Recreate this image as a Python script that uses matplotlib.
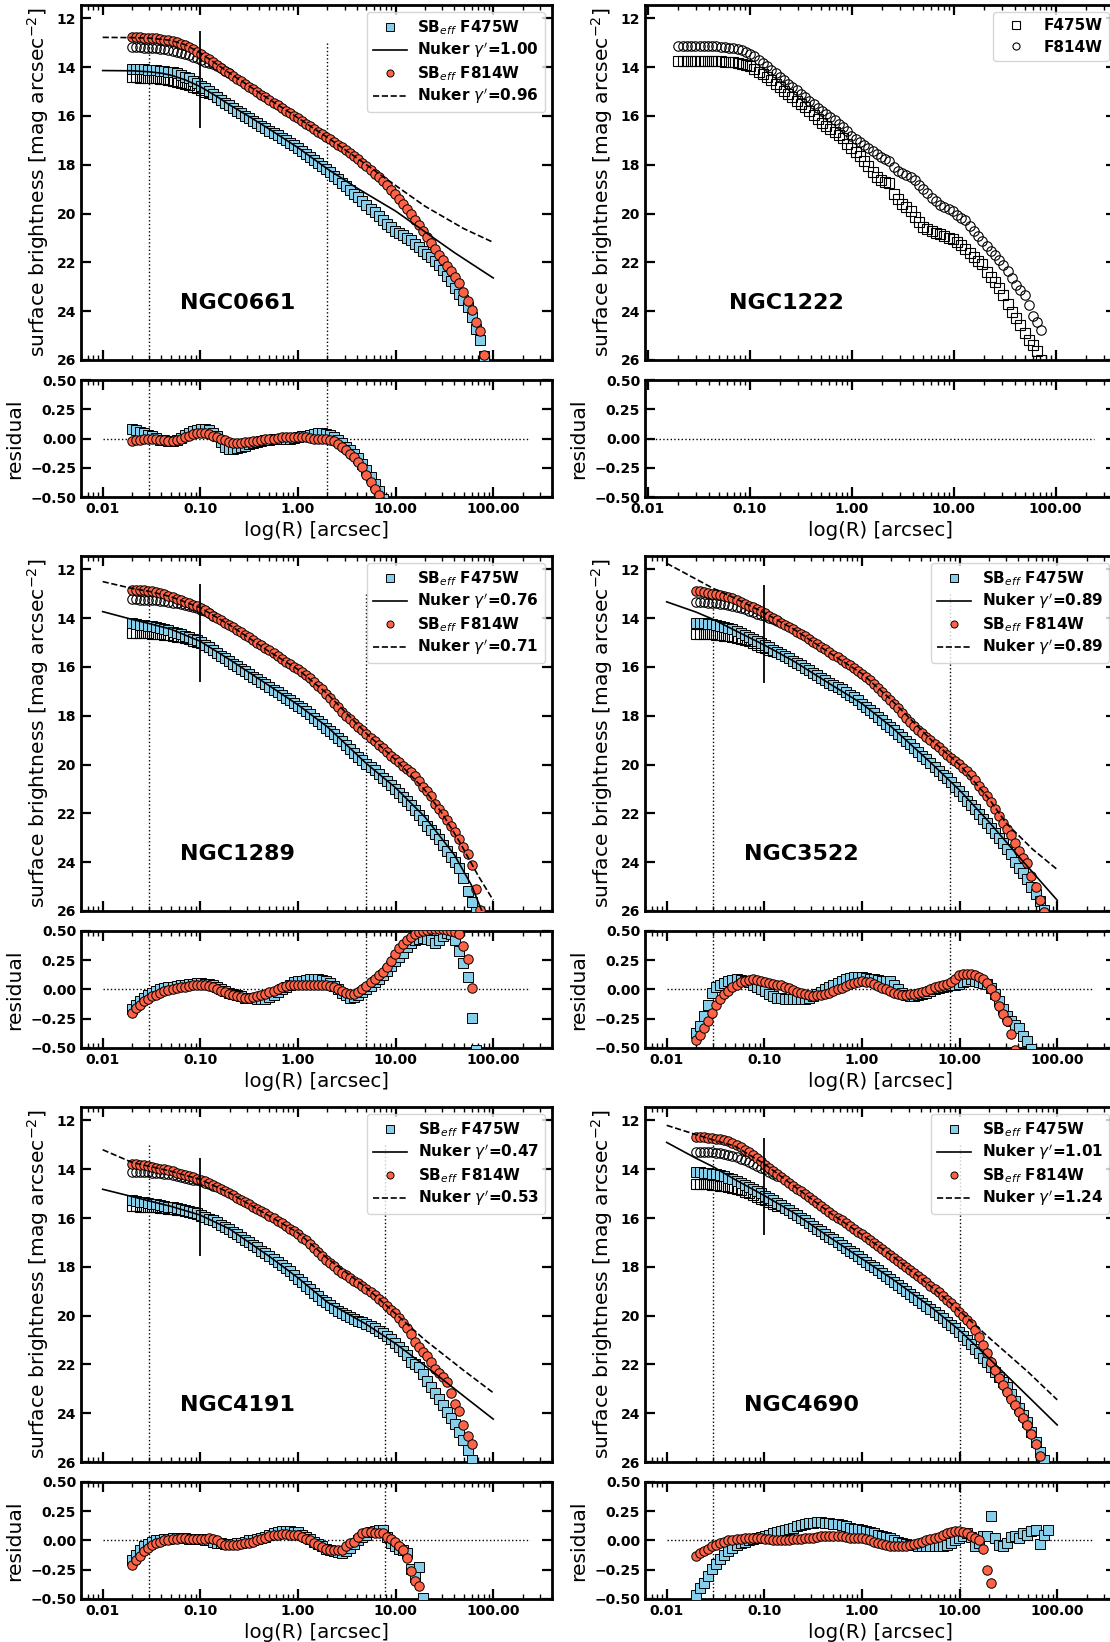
"""Effective surface-brightness profiles (F475W / F814W) with Nuker fits and residuals."""

import matplotlib
matplotlib.use("Agg")
import matplotlib.pyplot as plt
from matplotlib.lines import Line2D
from matplotlib.ticker import FixedLocator, FuncFormatter, LogLocator, NullFormatter

plt.rcParams["font.family"] = ["DejaVu Sans"]
plt.rcParams["axes.linewidth"] = 2.0

# ── Isophote radii shared by every profile (arcsec) ────────────────────────
RADIUS = [
    0.0200, 0.0220, 0.0242, 0.0266, 0.0293, 0.0322, 0.0354, 0.0390, 0.0429, 0.0472,
    0.0519, 0.0571, 0.0628, 0.0690, 0.0759, 0.0835, 0.0919, 0.1011, 0.1112, 0.1223,
    0.1345, 0.1480, 0.1628, 0.1791, 0.1970, 0.2167, 0.2384, 0.2622, 0.2884, 0.3173,
    0.3490, 0.3839, 0.4223, 0.4645, 0.5110, 0.5621, 0.6183, 0.6801, 0.7481, 0.8229,
    0.9052, 0.9957, 1.095, 1.205, 1.325, 1.458, 1.604, 1.764, 1.940, 2.134,
    2.348, 2.583, 2.841, 3.125, 3.438, 3.781, 4.159, 4.575, 5.033, 5.536,
    6.090, 6.699, 7.369, 8.106, 8.916, 9.808, 10.79, 11.87, 13.05, 14.36,
    15.80, 17.38, 19.11, 21.02, 23.13, 25.44, 27.98, 30.78, 33.86, 37.25,
    40.97, 45.07, 49.57, 54.53, 59.98, 65.98, 72.58, 79.84,
]

# ── NGC0661 ────────────────────────────────────────────────────────────────
N0661_F475W = [
    14.08, 14.08, 14.09, 14.09, 14.10, 14.10, 14.12, 14.14, 14.16, 14.18,
    14.21, 14.26, 14.32, 14.39, 14.46, 14.55, 14.65, 14.76, 14.87, 14.99,
    15.10, 15.22, 15.33, 15.45, 15.56, 15.67, 15.78, 15.89, 16.00, 16.10,
    16.20, 16.30, 16.40, 16.50, 16.60, 16.70, 16.80, 16.90, 17.00, 17.10,
    17.20, 17.30, 17.42, 17.54, 17.67, 17.80, 17.92, 18.05, 18.17, 18.30,
    18.45, 18.60, 18.75, 18.89, 19.03, 19.18, 19.33, 19.49, 19.65, 19.80,
    19.95, 20.10, 20.26, 20.41, 20.56, 20.70, 20.80, 20.90, 21.00, 21.10,
    21.24, 21.38, 21.52, 21.66, 21.79, 21.95, 22.10, 22.30, 22.55, 22.78,
    23.05, 23.28, 23.55, 23.85, 24.25, 24.75, 25.20, 25.85,
]
N0661_F814W = [
    12.78, 12.78, 12.78, 12.79, 12.79, 12.80, 12.82, 12.84, 12.87, 12.90,
    12.94, 12.99, 13.05, 13.11, 13.18, 13.26, 13.36, 13.46, 13.57, 13.68,
    13.80, 13.91, 14.02, 14.14, 14.25, 14.36, 14.47, 14.58, 14.69, 14.80,
    14.91, 15.02, 15.13, 15.24, 15.34, 15.45, 15.56, 15.67, 15.78, 15.88,
    15.99, 16.10, 16.21, 16.32, 16.42, 16.53, 16.64, 16.75, 16.86, 16.96,
    17.07, 17.18, 17.29, 17.41, 17.53, 17.65, 17.78, 17.92, 18.06, 18.21,
    18.36, 18.52, 18.68, 18.85, 19.02, 19.20, 19.40, 19.60, 19.81, 20.03,
    20.25, 20.49, 20.73, 20.97, 21.21, 21.45, 21.68, 21.91, 22.14, 22.37,
    22.60, 22.85, 23.20, 23.60, 23.95, 24.45, 24.80, 25.80,
]
N0661_F475W_RAW = [
    14.42, 14.42, 14.43, 14.43, 14.44, 14.45, 14.46, 14.48, 14.50, 14.53,
    14.56, 14.60, 14.64, 14.69, 14.74, 14.80, 14.86, 14.93, 15.00, 15.06,
    15.12, 15.22, 15.33,
]
N0661_F814W_RAW = [
    13.19, 13.19, 13.19, 13.20, 13.20, 13.21, 13.22, 13.24, 13.26, 13.29,
    13.32, 13.36, 13.41, 13.46, 13.52, 13.58, 13.64, 13.71, 13.77, 13.83,
    13.88, 13.94, 14.03, 14.14, 14.25,
]
N0661_RES_F475W = [
    0.08, 0.07, 0.06, 0.045, 0.03, 0.02, 0.005, -0.01, -0.015, -0.02,
    -0.025, -0.01, 0.005, 0.03, 0.05, 0.065, 0.075, 0.08, 0.08, 0.075,
    0.05, 0.02, -0.03, -0.07, -0.09, -0.09, -0.08, -0.07, -0.06, -0.05,
    -0.04, -0.03, -0.025, -0.015, -0.01, -0.005, -0.005, -0.005, 0.0, 0.0,
    0.005, 0.01, 0.02, 0.025, 0.03, 0.04, 0.05, 0.05, 0.04, 0.03,
    0.01, -0.01, -0.04, -0.07, -0.10, -0.135, -0.17, -0.22, -0.27, -0.33,
    -0.39, -0.45, -0.52,
]
N0661_RES_F814W = [
    -0.02, -0.015, -0.01, -0.005, 0.0, 0.0, -0.005, -0.01, -0.015, -0.02,
    -0.02, -0.01, 0.0, 0.015, 0.025, 0.035, 0.045, 0.05, 0.045, 0.04,
    0.025, 0.01, 0.0, -0.015, -0.03, -0.035, -0.035, -0.035, -0.03, -0.03,
    -0.025, -0.02, -0.01, -0.005, 0.0, 0.0, 0.005, 0.01, 0.01, 0.015,
    0.015, 0.015, 0.01, 0.01, 0.005, 0.0, 0.0, 0.0, 0.0, -0.01,
    -0.025, -0.045, -0.07, -0.10, -0.13, -0.16, -0.20, -0.245, -0.31, -0.37,
    -0.43, -0.48, -0.54,
]
N0661_NUKER_B_R = [0.01, 0.02, 0.03, 0.04, 0.05, 0.07, 0.1, 0.15, 0.2, 0.3,
                   0.5, 1, 2, 4, 10, 20, 40, 100]
N0661_NUKER_B = [14.14, 14.15, 14.19, 14.25, 14.33, 14.52, 14.80, 15.22, 15.55, 15.97,
                 16.52, 17.30, 18.17, 18.95, 19.90, 20.75, 21.60, 22.64]
N0661_NUKER_R_R = [0.01, 0.02, 0.03, 0.05, 0.07, 0.1, 0.15, 0.2, 0.5, 1,
                   2, 4, 10, 20, 50, 100]
N0661_NUKER_R = [12.78, 12.79, 12.81, 12.90, 13.08, 13.42, 13.90, 14.25, 15.30, 16.08,
                 16.88, 17.72, 18.85, 19.70, 20.62, 21.18]

# ── NGC1222 (no fit) ───────────────────────────────────────────────────────
N1222_F475W = [
    13.73, 13.73, 13.73, 13.73, 13.74, 13.74, 13.74, 13.75, 13.75, 13.76,
    13.76, 13.77, 13.78, 13.80, 13.83, 13.86, 13.90, 13.96, 14.07, 14.18,
    14.30, 14.41, 14.54, 14.68, 14.82, 14.96, 15.10, 15.24, 15.38, 15.52,
    15.65, 15.79, 15.95, 16.11, 16.27, 16.40, 16.53, 16.66, 16.79, 16.92,
    17.17, 17.33, 17.49, 17.66, 17.85, 18.04, 18.28, 18.52, 18.62, 18.69,
    18.75, 19.20, 19.42, 19.60, 19.75, 19.90, 20.15, 20.34, 20.56, 20.64,
    20.72, 20.79, 20.85, 20.92, 20.99, 21.06, 21.17, 21.30, 21.45, 21.62,
    21.78, 21.94, 22.08, 22.40, 22.60, 22.80, 23.05, 23.35, 23.70, 24.05,
    24.30, 24.55, 24.90, 25.20, 25.40, 25.65, 26.00,
]
N1222_F814W = [
    13.13, 13.13, 13.13, 13.13, 13.13, 13.14, 13.14, 13.14, 13.15, 13.15,
    13.16, 13.18, 13.20, 13.22, 13.26, 13.30, 13.38, 13.46, 13.55, 13.69,
    13.83, 13.97, 14.11, 14.26, 14.40, 14.54, 14.68, 14.81, 14.95, 15.09,
    15.22, 15.37, 15.52, 15.67, 15.80, 15.92, 16.05, 16.18, 16.31, 16.45,
    16.63, 16.83, 16.95, 17.08, 17.20, 17.33, 17.45, 17.58, 17.70, 17.76,
    17.85, 18.10, 18.24, 18.33, 18.42, 18.52, 18.64, 18.82, 18.99, 19.17,
    19.35, 19.50, 19.63, 19.73, 19.80, 19.88, 20.07, 20.19, 20.26, 20.52,
    20.73, 20.93, 21.12, 21.33, 21.52, 21.70, 21.90, 22.10, 22.35, 22.66,
    22.93, 23.15, 23.33, 23.73, 24.20, 24.45, 24.77,
]

# ── NGC1289 ────────────────────────────────────────────────────────────────
N1289_F475W = [
    14.21, 14.23, 14.26, 14.28, 14.31, 14.34, 14.37, 14.40, 14.45, 14.50,
    14.55, 14.60, 14.65, 14.71, 14.78, 14.84, 14.90, 14.97, 15.08, 15.19,
    15.31, 15.42, 15.53, 15.64, 15.75, 15.86, 15.96, 16.07, 16.17, 16.28,
    16.39, 16.50, 16.61, 16.71, 16.82, 16.93, 17.04, 17.15, 17.26, 17.37,
    17.48, 17.58, 17.69, 17.80, 17.93, 18.07, 18.21, 18.35, 18.49, 18.63,
    18.76, 18.90, 19.05, 19.20, 19.36, 19.52, 19.67, 19.82, 19.98, 20.10,
    20.23, 20.38, 20.53, 20.68, 20.84, 20.99, 21.16, 21.33, 21.50, 21.67,
    21.85, 22.05, 22.26, 22.50, 22.67, 22.86, 23.05, 23.30, 23.56, 23.80,
    23.98, 24.24, 24.65, 25.20, 25.65, 26.05,
]
N1289_F814W = [
    12.85, 12.85, 12.86, 12.86, 12.87, 12.90, 12.93, 12.97, 13.02, 13.08,
    13.14, 13.20, 13.26, 13.32, 13.38, 13.44, 13.50, 13.58, 13.68, 13.78,
    13.89, 13.99, 14.09, 14.19, 14.29, 14.38, 14.48, 14.58, 14.69, 14.79,
    14.89, 15.00, 15.11, 15.22, 15.32, 15.43, 15.55, 15.66, 15.78, 15.89,
    16.00, 16.10, 16.22, 16.34, 16.46, 16.60, 16.76, 16.92, 17.10, 17.28,
    17.47, 17.65, 17.83, 18.00, 18.15, 18.30, 18.44, 18.59, 18.75, 18.90,
    19.03, 19.18, 19.34, 19.50, 19.64, 19.78, 19.91, 20.04, 20.17, 20.30,
    20.47, 20.68, 20.90, 21.10, 21.30, 21.60, 21.82, 22.03, 22.27, 22.50,
    22.77, 23.05, 23.38, 23.65, 24.10, 25.10, 25.95,
]
N1289_F475W_RAW = [
    14.60, 14.60, 14.61, 14.61, 14.62, 14.63, 14.64, 14.66, 14.68, 14.70,
    14.73, 14.76, 14.79, 14.83, 14.87, 14.92, 14.97, 15.03, 15.10, 15.19,
    15.31,
]
N1289_F814W_RAW = [
    13.23, 13.23, 13.24, 13.24, 13.25, 13.26, 13.27, 13.29, 13.31, 13.33,
    13.36, 13.39, 13.43, 13.47, 13.51, 13.55, 13.60, 13.66, 13.72, 13.80,
    13.89,
]
N1289_RES_F475W = [
    -0.17, -0.13, -0.10, -0.075, -0.05, -0.03, -0.015, 0.0, 0.01, 0.02,
    0.025, 0.03, 0.035, 0.04, 0.045, 0.05, 0.055, 0.055, 0.05, 0.045,
    0.035, 0.02, 0.0, -0.015, -0.03, -0.04, -0.05, -0.06, -0.07, -0.07,
    -0.075, -0.08, -0.085, -0.08, -0.065, -0.045, -0.02, 0.0, 0.02, 0.04,
    0.06, 0.07, 0.075, 0.08, 0.085, 0.085, 0.085, 0.08, 0.07, 0.055,
    0.03, 0.0, -0.03, -0.05, -0.07, -0.065, -0.045, -0.02, 0.0, 0.03,
    0.06, 0.09, 0.12, 0.16, 0.20, 0.24, 0.28, 0.31, 0.36, 0.40,
    0.42, 0.43, 0.44, 0.43, 0.42, 0.40, 0.42, 0.46, 0.48, 0.47,
    0.42, 0.33, 0.23, 0.11, -0.24, -0.52,
]
N1289_RES_F814W = [
    -0.20, -0.16, -0.13, -0.10, -0.08, -0.06, -0.045, -0.03, -0.015, -0.005,
    0.0, 0.01, 0.02, 0.025, 0.03, 0.035, 0.04, 0.04, 0.035, 0.03,
    0.02, 0.005, -0.01, -0.025, -0.04, -0.05, -0.06, -0.065, -0.07, -0.07,
    -0.065, -0.06, -0.05, -0.04, -0.025, -0.01, 0.005, 0.02, 0.03, 0.035,
    0.04, 0.04, 0.04, 0.04, 0.04, 0.04, 0.04, 0.04, 0.035, 0.03,
    0.02, 0.0, -0.015, -0.03, -0.04, -0.035, -0.02, 0.005, 0.03, 0.06,
    0.09, 0.12, 0.15, 0.19, 0.24, 0.30, 0.35, 0.39, 0.42, 0.45,
    0.47, 0.49, 0.50, 0.51, 0.52, 0.52, 0.52, 0.52, 0.51, 0.50,
    0.49, 0.47, 0.37, 0.26, 0.01, -0.55,
]
N1289_NUKER_B_R = [0.01, 0.02, 0.03, 0.05, 0.1, 0.2, 0.5, 1, 2, 5, 10, 20, 40, 60, 80]
N1289_NUKER_B = [13.73, 14.05, 14.22, 14.45, 14.95, 15.70, 16.75, 17.55, 18.45, 19.95,
                 20.95, 22.15, 23.70, 24.95, 26.20]
N1289_NUKER_R_R = [0.01, 0.02, 0.03, 0.05, 0.1, 0.2, 0.5, 1, 2, 5, 10, 14, 20, 30,
                   45, 70, 100]
N1289_NUKER_R = [12.50, 12.78, 12.90, 13.12, 13.57, 14.28, 15.35, 16.10, 17.10, 18.72,
                 19.80, 20.40, 21.05, 22.00, 23.15, 24.55, 25.56]

# ── NGC3522 ────────────────────────────────────────────────────────────────
N3522_F475W = [
    14.19, 14.20, 14.21, 14.23, 14.25, 14.28, 14.32, 14.36, 14.40, 14.46,
    14.53, 14.61, 14.69, 14.77, 14.85, 14.94, 15.02, 15.11, 15.20, 15.29,
    15.38, 15.47, 15.56, 15.65, 15.74, 15.83, 15.93, 16.03, 16.13, 16.24,
    16.34, 16.45, 16.55, 16.64, 16.73, 16.83, 16.92, 17.02, 17.13, 17.25,
    17.37, 17.50, 17.63, 17.77, 17.90, 18.04, 18.18, 18.32, 18.46, 18.60,
    18.74, 18.88, 19.02, 19.17, 19.32, 19.47, 19.63, 19.78, 19.94, 20.10,
    20.26, 20.41, 20.57, 20.73, 20.90, 21.10, 21.29, 21.48, 21.66, 21.84,
    22.03, 22.21, 22.40, 22.58, 22.80, 23.00, 23.23, 23.45, 23.67, 23.99,
    24.22, 24.44, 24.70, 25.00, 25.30, 25.60, 25.95,
]
N3522_F814W = [
    12.88, 12.90, 12.93, 12.96, 12.99, 13.02, 13.05, 13.09, 13.13, 13.18,
    13.25, 13.33, 13.41, 13.49, 13.56, 13.64, 13.71, 13.79, 13.89, 13.99,
    14.09, 14.19, 14.28, 14.37, 14.46, 14.55, 14.65, 14.75, 14.86, 14.96,
    15.07, 15.17, 15.28, 15.39, 15.49, 15.60, 15.71, 15.82, 15.93, 16.04,
    16.15, 16.27, 16.41, 16.55, 16.69, 16.85, 17.01, 17.18, 17.36, 17.53,
    17.70, 17.87, 18.07, 18.26, 18.43, 18.57, 18.72, 18.86, 18.99, 19.14,
    19.29, 19.44, 19.59, 19.74, 19.87, 19.98, 20.12, 20.27, 20.42, 20.62,
    20.86, 21.07, 21.28, 21.52, 21.80, 22.10, 22.38, 22.62, 22.88, 23.20,
    23.55, 23.83, 24.05, 24.55, 25.00, 25.55, 26.05,
]
N3522_F475W_RAW = [
    14.63, 14.63, 14.64, 14.65, 14.66, 14.67, 14.69, 14.71, 14.74, 14.77,
    14.81, 14.85, 14.90, 14.95, 15.02, 15.09, 15.16, 15.23, 15.29, 15.34,
    15.40,
]
N3522_F814W_RAW = [
    13.33, 13.34, 13.35, 13.36, 13.37, 13.39, 13.41, 13.43, 13.46, 13.50,
    13.54, 13.59, 13.64, 13.69, 13.75, 13.81, 13.87, 13.93, 13.99, 14.05,
    14.12,
]
N3522_RES_F475W = [
    -0.37, -0.31, -0.23, -0.13, -0.03, 0.02, 0.04, 0.055, 0.07, 0.08,
    0.085, 0.08, 0.07, 0.06, 0.04, 0.02, 0.0, -0.015, -0.035, -0.055,
    -0.07, -0.075, -0.08, -0.085, -0.085, -0.085, -0.085, -0.08, -0.07, -0.055,
    -0.04, -0.02, 0.0, 0.02, 0.035, 0.055, 0.075, 0.09, 0.10, 0.105,
    0.11, 0.11, 0.10, 0.09, 0.085, 0.08, 0.075, 0.07, 0.07, 0.04,
    0.0, -0.03, -0.05, -0.06, -0.06, -0.05, -0.04, -0.03, -0.015, 0.0,
    0.01, 0.02, 0.03, 0.035, 0.04, 0.045, 0.06, 0.075, 0.085, 0.075,
    0.065, 0.055, 0.045, 0.01, -0.04, -0.10, -0.17, -0.23, -0.27, -0.30,
    -0.33, -0.40, -0.44, -0.51,
]
N3522_RES_F814W = [
    -0.43, -0.39, -0.33, -0.27, -0.20, -0.13, -0.08, -0.04, -0.01, 0.02,
    0.04, 0.06, 0.075, 0.08, 0.085, 0.08, 0.07, 0.06, 0.055, 0.05,
    0.04, 0.035, 0.025, 0.01, -0.005, -0.02, -0.03, -0.04, -0.05, -0.055,
    -0.05, -0.045, -0.04, -0.03, -0.015, 0.0, 0.015, 0.03, 0.045, 0.055,
    0.065, 0.07, 0.065, 0.06, 0.045, 0.03, 0.015, 0.0, -0.015, -0.03,
    -0.04, -0.045, -0.045, -0.04, -0.035, -0.03, -0.02, -0.01, 0.005, 0.02,
    0.03, 0.04, 0.05, 0.06, 0.09, 0.12, 0.13, 0.135, 0.13, 0.12,
    0.11, 0.09, 0.055, 0.0, -0.06, -0.14, -0.21, -0.27, -0.38, -0.52,
]
N3522_NUKER_B_R = [0.01, 0.02, 0.03, 0.05, 0.1, 0.2, 0.5, 1, 2, 5, 10, 20, 40, 100]
N3522_NUKER_B = [13.33, 13.75, 14.05, 14.50, 15.10, 15.76, 16.76, 17.50, 18.45, 19.90,
                 21.05, 22.35, 23.75, 25.56]
N3522_NUKER_R_R = [0.01, 0.02, 0.03, 0.05, 0.1, 0.2, 0.5, 1, 2, 5, 10, 20, 30, 56, 100]
N3522_NUKER_R = [11.75, 12.40, 12.78, 13.18, 13.78, 14.45, 15.50, 16.27, 17.35, 18.95,
                 20.00, 21.40, 22.40, 23.47, 24.30]

# ── NGC4191 ────────────────────────────────────────────────────────────────
N4191_F475W = [
    15.27, 15.30, 15.33, 15.36, 15.39, 15.41, 15.44, 15.47, 15.50, 15.53,
    15.56, 15.60, 15.63, 15.67, 15.71, 15.75, 15.80, 15.88, 15.95, 16.02,
    16.10, 16.18, 16.27, 16.36, 16.46, 16.56, 16.66, 16.77, 16.88, 16.98,
    17.09, 17.20, 17.33, 17.45, 17.57, 17.69, 17.81, 17.93, 18.05, 18.19,
    18.34, 18.49, 18.64, 18.78, 18.92, 19.06, 19.20, 19.34, 19.46, 19.57,
    19.68, 19.79, 19.88, 19.96, 20.04, 20.12, 20.20, 20.28, 20.36, 20.44,
    20.52, 20.62, 20.72, 20.82, 20.97, 21.12, 21.28, 21.44, 21.60, 21.88,
    22.00, 22.10, 22.41, 22.66, 22.91, 23.17, 23.43, 23.68, 23.93, 24.18,
    24.45, 24.75, 25.10, 25.50, 25.90,
]
N4191_F814W = [
    13.77, 13.79, 13.81, 13.84, 13.86, 13.90, 13.93, 13.97, 14.00, 14.04,
    14.09, 14.14, 14.19, 14.23, 14.28, 14.33, 14.38, 14.43, 14.50, 14.58,
    14.65, 14.73, 14.82, 14.90, 14.98, 15.07, 15.16, 15.26, 15.35, 15.44,
    15.53, 15.62, 15.72, 15.81, 15.90, 16.00, 16.11, 16.21, 16.32, 16.43,
    16.55, 16.67, 16.80, 16.92, 17.07, 17.23, 17.39, 17.54, 17.70, 17.84,
    17.98, 18.12, 18.24, 18.35, 18.45, 18.56, 18.67, 18.79, 18.92, 19.04,
    19.17, 19.30, 19.45, 19.60, 19.75, 19.90, 20.10, 20.30, 20.50, 20.75,
    21.06, 21.28, 21.48, 21.67, 21.88, 22.20, 22.37, 22.52, 22.72, 23.18,
    23.62, 23.92, 24.50, 24.95, 25.25,
]
N4191_F475W_RAW = [
    15.52, 15.52, 15.53, 15.53, 15.54, 15.55, 15.56, 15.57, 15.59, 15.61,
    15.63, 15.66, 15.69, 15.72, 15.76, 15.80, 15.84, 15.90, 15.96, 16.03,
    16.10,
]
N4191_F814W_RAW = [
    14.11, 14.11, 14.12, 14.12, 14.13, 14.14, 14.15, 14.17, 14.19, 14.21,
    14.24, 14.27, 14.30, 14.34, 14.38, 14.42, 14.46, 14.50, 14.56, 14.62,
    14.67,
]
N4191_RES_F475W = [
    -0.165, -0.12, -0.08, -0.05, -0.03, -0.01, 0.0, 0.005, 0.01, 0.015,
    0.02, 0.02, 0.02, 0.02, 0.015, 0.015, 0.01, 0.01, 0.005, 0.0,
    -0.01, -0.02, -0.025, -0.03, -0.03, -0.03, -0.025, -0.02, -0.01, 0.0,
    0.005, 0.015, 0.02, 0.03, 0.045, 0.06, 0.075, 0.085, 0.085, 0.08,
    0.075, 0.07, 0.05, 0.03, 0.01, -0.01, -0.03, -0.05, -0.07, -0.085,
    -0.09, -0.10, -0.11, -0.09, -0.06, -0.03, 0.0, 0.03, 0.05, 0.07,
    0.085, 0.09, 0.09, 0.03, -0.02, -0.05, -0.07, -0.08, -0.11, -0.24,
    -0.31, -0.23, -0.49, -0.60,
]
N4191_RES_F814W = [
    -0.21, -0.17, -0.13, -0.09, -0.06, -0.04, -0.025, -0.01, 0.0, 0.005,
    0.01, 0.015, 0.02, 0.02, 0.015, 0.01, 0.01, 0.01, 0.015, 0.02,
    0.015, 0.0, -0.02, -0.035, -0.04, -0.04, -0.035, -0.03, -0.025, -0.02,
    -0.01, 0.0, 0.015, 0.025, 0.035, 0.045, 0.05, 0.055, 0.055, 0.05,
    0.05, 0.045, 0.03, 0.015, 0.0, -0.02, -0.04, -0.055, -0.07, -0.08,
    -0.085, -0.085, -0.08, -0.05, -0.02, -0.01, 0.03, 0.06, 0.075, 0.07,
    0.06, 0.065, 0.065, 0.03, 0.01, -0.01, -0.05, -0.08, -0.15, -0.26,
    -0.35, -0.39, -0.65,
]
N4191_NUKER_B_R = [0.01, 0.02, 0.03, 0.05, 0.1, 0.2, 0.5, 1, 2, 5, 10, 20, 30, 50, 100]
N4191_NUKER_B = [14.82, 15.12, 15.30, 15.52, 15.88, 16.45, 17.55, 18.45, 19.45, 20.35,
                 21.15, 22.05, 22.60, 23.30, 24.24]
N4191_NUKER_R_R = [0.01, 0.02, 0.03, 0.05, 0.1, 0.2, 0.5, 1, 2, 5, 10, 15, 20, 50, 100]
N4191_NUKER_R = [13.20, 13.72, 13.88, 14.08, 14.42, 14.97, 15.90, 16.60, 17.65, 18.85,
                 19.92, 20.55, 21.00, 22.25, 23.16]

# ── NGC4690 ────────────────────────────────────────────────────────────────
N4690_F475W = [
    14.12, 14.13, 14.14, 14.16, 14.18, 14.20, 14.24, 14.29, 14.34, 14.41,
    14.47, 14.55, 14.64, 14.73, 14.81, 14.90, 14.99, 15.08, 15.18, 15.28,
    15.38, 15.48, 15.58, 15.68, 15.78, 15.89, 15.99, 16.10, 16.20, 16.32,
    16.43, 16.54, 16.65, 16.76, 16.87, 16.98, 17.10, 17.21, 17.33, 17.44,
    17.56, 17.67, 17.79, 17.91, 18.02, 18.14, 18.26, 18.38, 18.49, 18.61,
    18.73, 18.85, 18.98, 19.10, 19.22, 19.35, 19.47, 19.59, 19.72, 19.84,
    19.96, 20.10, 20.24, 20.38, 20.52, 20.66, 20.82, 21.00, 21.17, 21.35,
    21.54, 21.73, 21.91, 22.10, 22.32, 22.53, 22.74, 22.94, 23.20, 23.50,
    23.79, 24.08, 24.37, 24.75, 25.17, 25.59, 25.90,
]
N4690_F814W = [
    12.68, 12.68, 12.69, 12.70, 12.71, 12.74, 12.77, 12.81, 12.86, 12.92,
    12.99, 13.08, 13.20, 13.31, 13.42, 13.55, 13.68, 13.81, 13.94, 14.07,
    14.19, 14.31, 14.43, 14.55, 14.67, 14.79, 14.91, 15.03, 15.15, 15.27,
    15.39, 15.50, 15.62, 15.74, 15.86, 15.98, 16.09, 16.21, 16.33, 16.44,
    16.56, 16.67, 16.79, 16.91, 17.03, 17.15, 17.27, 17.39, 17.51, 17.64,
    17.76, 17.89, 18.01, 18.14, 18.26, 18.38, 18.51, 18.64, 18.78, 18.91,
    19.05, 19.20, 19.34, 19.49, 19.66, 19.86, 20.03, 20.19, 20.36, 20.60,
    20.89, 21.22, 21.55, 21.88, 22.21, 22.54, 22.84, 23.13, 23.41, 23.67,
    23.94, 24.20, 24.47, 24.85, 25.28, 25.75,
]
N4690_F475W_RAW = [
    14.60, 14.60, 14.61, 14.62, 14.63, 14.65, 14.67, 14.70, 14.73, 14.77,
    14.82, 14.87, 14.93, 14.99, 15.06, 15.13, 15.20, 15.27, 15.35, 15.43,
    15.52,
]
N4690_F814W_RAW = [
    13.28, 13.28, 13.29, 13.30, 13.31, 13.33, 13.35, 13.38, 13.42, 13.46,
    13.51, 13.57, 13.63, 13.70, 13.77, 13.85, 13.93, 14.01, 14.10, 14.19,
    14.27,
]
N4690_RES_F475W = [
    -0.47, -0.41, -0.36, -0.30, -0.24, -0.20, -0.16, -0.12, -0.09, -0.06,
    -0.04, -0.025, -0.01, 0.0, 0.01, 0.02, 0.03, 0.04, 0.05, 0.06,
    0.07, 0.08, 0.09, 0.10, 0.11, 0.12, 0.13, 0.14, 0.15, 0.15,
    0.155, 0.155, 0.15, 0.15, 0.145, 0.14, 0.13, 0.12, 0.11, 0.10,
    0.095, 0.09, 0.08, 0.07, 0.06, 0.05, 0.04, 0.03, 0.02, 0.0,
    -0.01, -0.02, -0.03, -0.035, -0.04, -0.045, -0.05, -0.05, -0.05, -0.05,
    -0.05, -0.045, -0.04, -0.02, 0.0, 0.02, 0.04, 0.06, 0.03, -0.05,
    -0.02, 0.04, 0.04, 0.21, 0.02, -0.04, -0.05, -0.02, 0.03, 0.04,
    0.02, 0.06, 0.05, 0.08, 0.09, -0.03, 0.05, 0.09,
]
N4690_RES_F814W = [
    -0.13, -0.11, -0.09, -0.07, -0.05, -0.035, -0.02, -0.01, 0.0, 0.005,
    0.01, 0.015, 0.02, 0.02, 0.02, 0.02, 0.02, 0.015, 0.01, 0.005,
    0.0, 0.0, 0.0, 0.005, 0.01, 0.01, 0.015, 0.02, 0.02, 0.025,
    0.03, 0.035, 0.04, 0.04, 0.04, 0.04, 0.035, 0.03, 0.025, 0.02,
    0.02, 0.02, 0.01, 0.0, -0.01, -0.02, -0.03, -0.04, -0.045, -0.05,
    -0.05, -0.05, -0.045, -0.04, -0.03, -0.02, -0.01, 0.0, 0.01, 0.02,
    0.03, 0.045, 0.06, 0.07, 0.08, 0.08, 0.07, 0.06, 0.04, 0.02,
    0.0, -0.07, -0.25, -0.36,
]
N4690_NUKER_B_R = [0.01, 0.02, 0.03, 0.05, 0.1, 0.2, 0.5, 1, 2, 5, 10, 20, 50, 100]
N4690_NUKER_B = [12.90, 13.55, 13.90, 14.42, 15.08, 15.78, 16.87, 17.67, 18.47, 19.62,
                 20.60, 21.75, 23.30, 24.48]
N4690_NUKER_R_R = [0.01, 0.02, 0.03, 0.05, 0.1, 0.2, 0.5, 1, 2, 5, 10, 20, 50, 100]
N4690_NUKER_R = [12.20, 12.58, 12.80, 13.05, 13.78, 14.68, 15.86, 16.68, 17.52, 18.78,
                 19.80, 20.90, 22.30, 23.45]

# Per-galaxy fit settings: name, Nuker gamma' (F475W, F814W), fit range, PSF marker span
GALAXIES = [
    dict(name="NGC0661", col=0, row=0, gamma=("1.00", "0.96"), fit_range=(0.03, 2.0),
         psf_span=(12.5, 16.5),
         b=N0661_F475W, r=N0661_F814W, b_raw=N0661_F475W_RAW, r_raw=N0661_F814W_RAW,
         b_res=N0661_RES_F475W, r_res=N0661_RES_F814W,
         nb=(N0661_NUKER_B_R, N0661_NUKER_B), nr=(N0661_NUKER_R_R, N0661_NUKER_R)),
    dict(name="NGC1222", col=1, row=0, b=N1222_F475W, r=N1222_F814W),
    dict(name="NGC1289", col=0, row=1, gamma=("0.76", "0.71"), fit_range=(0.03, 5.0),
         psf_span=(12.6, 16.6),
         b=N1289_F475W, r=N1289_F814W, b_raw=N1289_F475W_RAW, r_raw=N1289_F814W_RAW,
         b_res=N1289_RES_F475W, r_res=N1289_RES_F814W,
         nb=(N1289_NUKER_B_R, N1289_NUKER_B), nr=(N1289_NUKER_R_R, N1289_NUKER_R)),
    dict(name="NGC3522", col=1, row=1, gamma=("0.89", "0.89"), fit_range=(0.03, 8.0),
         psf_span=(12.65, 16.65),
         b=N3522_F475W, r=N3522_F814W, b_raw=N3522_F475W_RAW, r_raw=N3522_F814W_RAW,
         b_res=N3522_RES_F475W, r_res=N3522_RES_F814W,
         nb=(N3522_NUKER_B_R, N3522_NUKER_B), nr=(N3522_NUKER_R_R, N3522_NUKER_R)),
    dict(name="NGC4191", col=0, row=2, gamma=("0.47", "0.53"), fit_range=(0.03, 7.8),
         psf_span=(13.55, 17.55),
         b=N4191_F475W, r=N4191_F814W, b_raw=N4191_F475W_RAW, r_raw=N4191_F814W_RAW,
         b_res=N4191_RES_F475W, r_res=N4191_RES_F814W,
         nb=(N4191_NUKER_B_R, N4191_NUKER_B), nr=(N4191_NUKER_R_R, N4191_NUKER_R)),
    dict(name="NGC4690", col=1, row=2, gamma=("1.01", "1.24"), fit_range=(0.03, 10.0),
         psf_span=(12.7, 16.7),
         b=N4690_F475W, r=N4690_F814W, b_raw=N4690_F475W_RAW, r_raw=N4690_F814W_RAW,
         b_res=N4690_RES_F475W, r_res=N4690_RES_F814W,
         nb=(N4690_NUKER_B_R, N4690_NUKER_B), nr=(N4690_NUKER_R_R, N4690_NUKER_R)),
]

BLUE = "#87ceeb"
RED = "#ff6347"
MS = 6.8

# panel geometry in figure fractions (right column runs slightly off the page)
COL_X = [0.0730, 0.5811]
COL_W = 0.4243
SB_Y = [0.7808, 0.4452, 0.1096]
SB_H = 0.2162
RES_Y = [0.6973, 0.3618, 0.0262]
RES_H = 0.07125


def _fmt(spec):
    return FuncFormatter(lambda v, _: (spec % v).replace("-", "\u2212"))


def _style_axis(ax, xlim):
    ax.set_xscale("log")
    ax.set_xlim(*xlim)
    ax.xaxis.set_major_locator(LogLocator(base=10, numticks=12))
    ax.xaxis.set_minor_locator(LogLocator(base=10, subs=range(2, 10), numticks=12))
    ax.xaxis.set_minor_formatter(NullFormatter())
    ax.tick_params(which="both", direction="in", top=True, right=True, labelsize=10)
    ax.tick_params(which="major", length=7, width=1.6)
    ax.tick_params(which="minor", length=3.5, width=1.0)


def _bold_ticklabels(ax):
    for lbl in ax.get_xticklabels() + ax.get_yticklabels():
        lbl.set_fontweight("bold")


def draw_galaxy(fig, g):
    x0 = COL_X[g["col"]]
    xlim = (0.0094, 391) if g["name"] == "NGC1222" else (0.006, 400)
    ax = fig.add_axes([x0, SB_Y[g["row"]], COL_W, SB_H])
    res = fig.add_axes([x0, RES_Y[g["row"]], COL_W, RES_H])

    fitted = "nb" in g
    # main profile panel
    if fitted:
        for xv in g["fit_range"]:
            ax.vlines(xv, 13, 26, colors="k", linestyles=":", lw=1.0, zorder=1)
        ax.plot(RADIUS[:len(g["b_raw"])], g["b_raw"], "s", ms=MS, mfc="none",
                mec="k", mew=0.8, zorder=2)
        ax.plot(RADIUS[:len(g["r_raw"])], g["r_raw"], "o", ms=MS, mfc="none",
                mec="k", mew=0.8, zorder=2)
        ax.plot(RADIUS[:len(g["b"])], g["b"], "s", ms=MS, mfc=BLUE, mec="k",
                mew=0.7, zorder=3)
        ax.plot(RADIUS[:len(g["r"])], g["r"], "o", ms=MS, mfc=RED, mec="k",
                mew=0.7, zorder=3)
        ax.plot(*g["nb"], "k-", lw=1.2, zorder=4)
        ax.plot(*g["nr"], "k--", lw=1.2, zorder=4)
        ax.vlines(0.1, *g["psf_span"], colors="k", lw=1.3, zorder=5)

        handles = [
            Line2D([], [], ls="none", marker="s", ms=MS, mfc=BLUE, mec="k", mew=0.7),
            Line2D([], [], color="k", lw=1.2),
            Line2D([], [], ls="none", marker="o", ms=MS, mfc=RED, mec="k", mew=0.7),
            Line2D([], [], color="k", lw=1.2, ls="--"),
        ]
        labels = [
            r"SB$_{eff}$ F475W",
            r"Nuker $\gamma'$=" + g["gamma"][0],
            r"SB$_{eff}$ F814W",
            r"Nuker $\gamma'$=" + g["gamma"][1],
        ]
        spacing = 0.25
    else:
        ax.plot(RADIUS[:len(g["b"])], g["b"], "s", ms=MS, mfc="none", mec="k",
                mew=0.8, zorder=2)
        ax.plot(RADIUS[:len(g["r"])], g["r"], "o", ms=MS, mfc="none", mec="k",
                mew=0.8, zorder=2)
        handles = [
            Line2D([], [], ls="none", marker="s", ms=MS, mfc="none", mec="k", mew=0.8),
            Line2D([], [], ls="none", marker="o", ms=MS, mfc="none", mec="k", mew=0.8),
        ]
        labels = ["F475W", "F814W"]
        spacing = 0.45

    ax.legend(handles, labels, loc="upper right", prop={"size": 11, "weight": "bold"},
              markerscale=0.75, handlelength=2.2, handletextpad=0.7,
              labelspacing=spacing, borderaxespad=0.45)
    ax.text(0.062, 23.9, g["name"], fontsize=16, fontweight="bold")
    _style_axis(ax, xlim)
    ax.set_ylim(26, 11.45)
    ax.yaxis.set_major_locator(FixedLocator([12, 14, 16, 18, 20, 22, 24, 26]))
    ax.yaxis.set_major_formatter(_fmt("%d"))
    ax.tick_params(labelbottom=False)
    ax.set_ylabel("surface brightness [mag arcsec$^{-2}$]", fontsize=14.6)
    _bold_ticklabels(ax)

    # residual panel
    res.hlines(0.0, 0.01, 240, colors="k", linestyles=":", lw=1.0, zorder=1)
    if fitted:
        for xv in g["fit_range"]:
            res.axvline(xv, color="k", ls=":", lw=1.0, zorder=1)
        res.plot(RADIUS[:len(g["b_res"])], g["b_res"], "s", ms=MS, mfc=BLUE, mec="k",
                 mew=0.7, zorder=3)
        res.plot(RADIUS[:len(g["r_res"])], g["r_res"], "o", ms=MS, mfc=RED, mec="k",
                 mew=0.7, zorder=3)
    _style_axis(res, xlim)
    res.set_ylim(-0.5, 0.5)
    res.yaxis.set_major_locator(FixedLocator([-0.5, -0.25, 0.0, 0.25, 0.5]))
    res.yaxis.set_major_formatter(_fmt("%.2f"))
    res.xaxis.set_major_formatter(_fmt("%.2f"))
    res.set_ylabel("residual", fontsize=14.6)
    res.set_xlabel("log(R) [arcsec]", fontsize=14.2)
    _bold_ticklabels(res)


def main():
    fig = plt.figure(figsize=(11.1, 16.42), dpi=100)
    for g in GALAXIES:
        draw_galaxy(fig, g)
    fig.savefig("out.png", dpi=100)
    plt.close(fig)


if __name__ == "__main__":
    main()
